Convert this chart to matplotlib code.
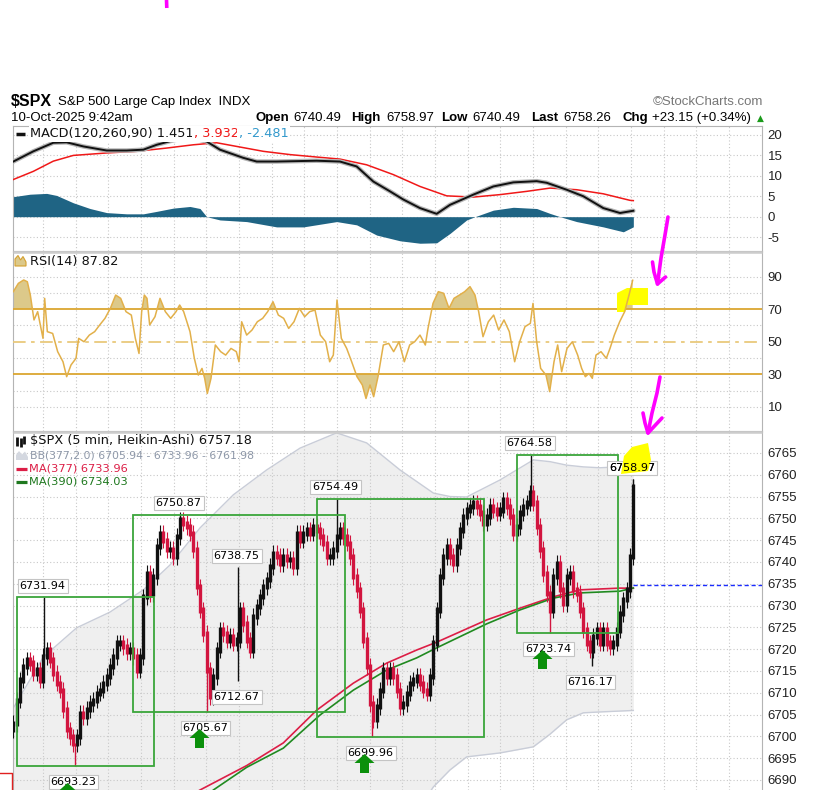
import numpy as np
import matplotlib
matplotlib.use("Agg")
import matplotlib.pyplot as plt
from matplotlib.path import Path
from matplotlib.patches import Polygon
from matplotlib.transforms import offset_copy

plt.rcParams['font.family'] = ['Liberation Sans', 'DejaVu Sans']
plt.rcParams['axes.unicode_minus'] = False

W, H = 822, 790

# ---------------- DATA ----------------
# Heikin-Ashi closes of $SPX, 5-min chart (one value per ~3 bars)
price_close = [
 6703.0, 6708.3, 6712.9, 6716.0, 6717.5, 6716.8, 6714.5, 6715.2, 6712.9, 6718.3,
 6719.8, 6717.5, 6714.5, 6712.2, 6710.6, 6706.1, 6701.5, 6699.9, 6698.4, 6699.9,
 6705.3, 6704.5, 6706.1, 6707.6, 6708.3, 6709.9, 6710.6, 6712.2, 6713.7, 6716.0,
 6718.3, 6721.4, 6721.4, 6720.6, 6719.4, 6719.8, 6718.3, 6715.2, 6718.3, 6732.0,
 6737.4, 6732.8, 6736.6, 6743.5, 6746.6, 6745.0, 6742.8, 6742.8, 6741.2, 6745.8,
 6749.6, 6748.9, 6748.1, 6746.6, 6742.8, 6734.3, 6729.0, 6723.6, 6715.2, 6709.1,
 6713.7, 6719.8, 6724.4, 6723.6, 6722.1, 6722.9, 6721.4, 6722.1, 6729.0, 6725.9,
 6722.1, 6719.8, 6727.5, 6729.7, 6732.0, 6734.3, 6735.9, 6738.9, 6742.0, 6741.2,
 6739.7, 6741.2, 6740.5, 6740.5, 6738.9, 6746.6, 6745.0, 6746.6, 6747.3, 6746.6,
 6748.1, 6747.3, 6745.8, 6744.3, 6741.2, 6741.2, 6742.8, 6745.8, 6747.3, 6745.8,
 6744.3, 6741.2, 6736.6, 6733.6, 6729.0, 6722.1, 6716.0, 6707.6, 6703.8, 6706.8,
 6710.6, 6715.2, 6713.7, 6715.2, 6713.7, 6710.6, 6706.8, 6707.6, 6709.9, 6712.2,
 6712.9, 6713.7, 6712.2, 6710.6, 6709.9, 6713.7, 6721.4, 6729.0, 6736.6, 6741.2,
 6743.5, 6741.2, 6739.7, 6743.5, 6747.3, 6750.4, 6751.9, 6752.7, 6753.5, 6752.7,
 6751.2, 6748.9, 6750.4, 6752.7, 6751.9, 6751.2, 6751.9, 6754.2, 6752.7, 6750.4,
 6746.6, 6748.1, 6751.2, 6752.7, 6753.5, 6755.8, 6753.5, 6748.1, 6742.8, 6737.4,
 6732.8, 6729.0, 6736.6, 6739.7, 6733.6, 6730.5, 6736.6, 6737.4, 6733.6, 6732.8,
 6729.0, 6724.4, 6721.4, 6719.8, 6722.9, 6724.4, 6721.4, 6724.4, 6721.4, 6720.6,
 6721.4, 6724.4, 6728.2, 6731.3, 6733.6, 6741.2, 6757.18,
]

# labelled swing highs / lows (position in the same time units)
high_idx = [9.2, 50.0, 67.4, 97.1, 155.3, 186.0]
high_vals = [6731.94, 6750.87, 6738.75, 6754.49, 6764.58, 6758.97]
low_idx = [18.5, 58.1, 67.4, 107.6, 161.0, 173.6]
low_vals = [6693.23, 6705.67, 6712.67, 6699.96, 6723.74, 6716.17]
arrow_lows = [6693.23, 6705.67, 6699.96, 6723.74]

# green range boxes drawn on the chart
box_start = [1.2, 36.0, 91.1, 151.0]
box_end = [42.2, 99.5, 141.2, 181.5]
box_low = [6693.23, 6705.67, 6699.96, 6723.74]
box_high = [6731.94, 6750.87, 6754.49, 6764.58]

level_line = 6734.7

ma377_idx = [50, 56, 70, 81, 91, 102, 112, 121, 127, 142, 152, 162, 170, 182, 186]
ma377_vals = [6685.0, 6687.7, 6693.3, 6698.5, 6706.0, 6712.2, 6716.8, 6719.8, 6721.6,
              6726.7, 6729.4, 6732.0, 6733.6, 6734.0, 6733.96]
ma390_idx = [55, 60, 70, 81, 92, 102, 112, 121, 127, 142, 152, 162, 170, 182, 186]
ma390_vals = [6684.0, 6687.7, 6692.9, 6697.3, 6704.9, 6710.6, 6715.2, 6718.0, 6720.3,
              6725.8, 6729.0, 6731.7, 6732.9, 6733.3, 6734.03]

bb_idx = [0, 9, 19, 29, 39, 47, 56, 66, 76, 86, 97, 106, 116, 126, 131, 136, 146, 156,
          161, 166, 171, 176, 186]
bb_upper = [6706.5, 6718.2, 6724.9, 6728.5, 6733.6, 6739.3, 6747.8, 6755.4, 6761.1, 6766.1,
            6769.6, 6767.3, 6761.1, 6755.8, 6755.0, 6754.9, 6758.8, 6763.4, 6763.0, 6762.2,
            6761.8, 6761.6, 6761.98]
bb_lower = [6640.0, 6641.0, 6642.0, 6644.0, 6646.0, 6648.0, 6650.0, 6653.0, 6656.0, 6660.0,
            6664.0, 6668.0, 6677.0, 6688.4, 6692.3, 6695.3, 6696.2, 6697.6, 6700.5, 6703.8,
            6705.4, 6705.6, 6705.94]

macd_idx = [0, 6, 12, 16, 21, 28, 34, 39, 43, 48, 53, 58, 62, 69, 73, 79, 91, 98, 103, 108,
            113, 117, 122, 127, 131, 138, 144, 150, 157, 160, 166, 171, 177, 182, 186]
macd_vals = [13.5, 16.0, 18.1, 18.2, 17.2, 16.2, 16.2, 16.4, 17.6, 18.7, 19.4, 18.4, 16.4,
             14.4, 13.5, 13.5, 13.7, 13.5, 12.3, 8.6, 6.2, 4.2, 2.1, 0.7, 2.9, 5.4, 7.4, 8.4,
             8.7, 8.3, 6.6, 5.0, 2.1, 0.9, 1.451]
sig_idx = [0, 6, 12, 18, 28, 37, 46, 54, 61, 67, 75, 83, 91, 98, 106, 114, 122, 130, 138,
           146, 154, 161, 169, 177, 185, 186]
sig_vals = [9.1, 11.1, 13.6, 15.0, 15.6, 16.0, 16.8, 17.6, 18.1, 17.2, 16.0, 15.2, 14.6, 14.1,
            12.7, 10.3, 7.4, 5.1, 4.8, 5.4, 6.2, 7.0, 6.6, 5.6, 4.0, 3.932]
hist_idx = [0, 5, 10, 13, 18, 23, 28, 34, 39, 43, 48, 53, 56, 58, 62, 70, 79, 87, 97, 103,
            109, 116, 122, 127, 131, 136, 138.5, 144, 150, 157, 161, 164, 169, 177, 183, 186]
hist_vals = [4.9, 5.5, 5.7, 5.2, 3.4, 2.0, 1.0, 0.7, 0.7, 1.3, 2.1, 2.5, 2.0, 0.0, -0.8,
             -1.2, -2.5, -2.5, -1.2, -2.0, -4.5, -5.9, -6.5, -6.4, -4.1, -0.8, 0.0, 1.6, 2.3,
             2.0, 0.8, 0.0, -1.2, -2.5, -3.7, -2.481]

rsi_idx = [0, 1.5, 3.1, 4.2, 5.1, 6.2, 7.3, 8.3, 8.9, 9.4, 10.2, 11.8, 13.3, 14.9, 16.0, 17.3,
           18.8, 19.6, 21.2, 22.8, 24.4, 25.9, 27.5, 29.1, 30.7, 32.2, 33.8, 35.4, 36.6, 37.7,
           38.5, 39.3, 40.1, 40.9, 42.5, 44.0, 45.6, 47.2, 48.8, 49.9, 51.1, 53.0, 54.3, 55.5,
           56.6, 57.4, 58.2, 59.3, 60.6, 62.2, 63.7, 65.3, 66.9, 67.7, 68.5, 70.0, 71.6, 73.2,
           74.8, 76.3, 77.9, 79.5, 81.1, 82.6, 84.2, 85.8, 87.4, 88.9, 90.5, 92.1, 93.7, 94.9,
           96.0, 97.1, 98.4, 100.0, 101.5, 103.1, 104.7, 105.8, 107.0, 108.1, 109.4, 111.0,
           112.6, 114.1, 115.7, 117.3, 118.9, 120.4, 122.0, 123.6, 124.4, 125.9, 127.5, 129.1,
           130.7, 132.2, 133.8, 135.4, 137.0, 138.5, 139.6, 140.9, 142.5, 144.1, 145.6, 147.2,
           148.8, 150.4, 151.9, 153.5, 155.1, 155.9, 157.0, 158.2, 159.8, 160.9, 162.2, 163.3,
           164.5, 166.1, 167.7, 169.3, 170.5, 171.6, 172.7, 173.7, 174.8, 176.3, 177.9, 179.0,
           180.3, 181.9, 183.4, 184.7, 185.8]
rsi_vals = [80.8, 85.9, 88.0, 86.9, 78.7, 63.4, 68.5, 58.2, 52.1, 76.7, 56.2, 55.1, 43.9, 37.7,
            28.5, 35.7, 39.8, 52.1, 50.0, 54.1, 56.2, 60.3, 64.4, 70.5, 78.7, 76.7, 68.5, 66.4,
            52.1, 42.8, 68.5, 78.7, 76.7, 60.3, 65.4, 76.7, 68.5, 64.4, 68.5, 72.6, 68.5, 56.2,
            39.8, 29.5, 33.6, 27.5, 18.2, 27.5, 48.0, 43.9, 41.8, 45.9, 43.9, 37.7, 62.3, 54.1,
            57.2, 62.3, 64.4, 68.5, 74.6, 66.4, 64.4, 58.2, 62.3, 70.5, 65.4, 68.5, 69.5, 54.1,
            50.0, 37.7, 41.8, 75.7, 52.1, 45.9, 37.7, 28.5, 23.4, 15.1, 23.4, 16.2, 28.5, 48.0,
            49.0, 43.9, 50.0, 37.7, 48.0, 50.0, 54.1, 48.0, 58.2, 73.6, 80.8, 79.8, 70.5, 76.7,
            78.7, 80.8, 83.9, 78.7, 68.5, 53.1, 62.3, 66.4, 57.2, 63.4, 56.2, 37.7, 50.0, 59.3,
            61.3, 73.6, 50.0, 33.6, 29.5, 19.3, 37.7, 48.0, 31.6, 45.9, 50.0, 41.8, 33.6, 28.5,
            30.5, 27.5, 41.8, 43.9, 39.8, 45.9, 54.1, 62.3, 68.5, 78.7, 87.82]

price_ticks = list(range(6690, 6766, 5))
rsi_ticks = [10, 30, 50, 70, 90]
macd_ticks = [-5, 0, 5, 10, 15, 20]

# ---------------- FIGURE / LAYOUT ----------------
fig = plt.figure(figsize=(W / 100, H / 100), dpi=100)


def px_rect(x0, y0, x1, y1):
    return [x0 / W, 1 - y1 / H, (x1 - x0) / W, (y1 - y0) / H]


L, R = 12.5, 762
XMIN, XMAX = -0.25, 224.6
ax_m = fig.add_axes(px_rect(L, 126, R, 251))
ax_r = fig.add_axes(px_rect(L, 252, R, 431))
ax_p = fig.add_axes(px_rect(L, 432, R, 790))
ov = fig.add_axes([0, 0, 1, 1], zorder=20)
ov.set_xlim(0, W)
ov.set_ylim(H, 0)
ov.axis('off')
ov.patch.set_alpha(0)

GRID = '#c8c8c8'
vgrid = np.arange(8.9, 224, 9.8)

for ax in (ax_m, ax_r, ax_p):
    ax.set_xlim(XMIN, XMAX)
    ax.set_xticks([])
    ax.yaxis.tick_right()
    ax.tick_params(axis='y', length=0, pad=4, labelsize=9.5, labelcolor='#222222')
    for s in ax.spines.values():
        s.set_color('#b4b4b4')
        s.set_linewidth(0.8)
    for g in vgrid:
        ax.axvline(g, color=GRID, lw=0.8, ls=(0, (1, 2)), zorder=1)
ax_p.spines['bottom'].set_visible(False)

# ---------------- MACD ----------------
ax_m.set_ylim(-8.4, 22.2)
ax_m.set_yticks(macd_ticks)
for t in macd_ticks:
    ax_m.axhline(t, color=GRID, lw=0.8, ls=(0, (1, 2)), zorder=1)
ax_m.fill_between(hist_idx, hist_vals, 0, color='#1f6484', lw=0, zorder=2)
ax_m.plot(sig_idx, sig_vals, color='#f01818', lw=1.1, zorder=3)
ax_m.plot(macd_idx, macd_vals, color='#b4b4b4', lw=3.2, zorder=3, solid_capstyle='round')
ax_m.plot(macd_idx, macd_vals, color='#111111', lw=1.4, zorder=4)

# ---------------- RSI ----------------
ax_r.set_ylim(-4.9, 105.2)
ax_r.set_yticks(rsi_ticks)
for t in [10, 20, 40, 60, 80, 90]:
    ax_r.axhline(t, color=GRID, lw=0.8, ls=(0, (1, 2)), zorder=1)
rv = np.array(rsi_vals)
ax_r.fill_between(rsi_idx, rv, 70, where=rv >= 70, interpolate=True, color='#dcc98a', lw=0, zorder=2)
ax_r.fill_between(rsi_idx, rv, 30, where=rv <= 30, interpolate=True, color='#dcc98a', lw=0, zorder=2)
ax_r.axhline(70, color='#dba630', lw=1.3, zorder=3)
ax_r.axhline(30, color='#dba630', lw=1.3, zorder=3)
ax_r.axhline(50, color='#e9c97c', lw=1.3, ls=(0, (7, 3, 2, 3)), zorder=3)
ax_r.plot(rsi_idx, rsi_vals, color='#e2b04a', lw=1.1, zorder=5)

# ---------------- PRICE ----------------
ax_p.set_ylim(6687.7, 6769.8)
ax_p.set_yticks(price_ticks)
for t in price_ticks:
    ax_p.axhline(t, color=GRID, lw=0.8, ls=(0, (1, 2)), zorder=1)
ax_p.fill_between(bb_idx, bb_lower, bb_upper, color='#efefef', lw=0, zorder=0.5)
ax_p.plot(bb_idx, bb_upper, color='#c9cdd8', lw=1.0, zorder=0.6)
ax_p.plot(bb_idx, bb_lower, color='#c9cdd8', lw=1.0, zorder=0.6)

ax_p.plot(ma377_idx, ma377_vals, color='#dc1e46', lw=1.2, zorder=3)
ax_p.plot(ma390_idx, ma390_vals, color='#208a20', lw=1.2, zorder=3)

close = np.array(price_close)
n = len(close)
idx = np.arange(n)
opn = np.concatenate([[close[0] - 1.5], close[:-1]])
up = close >= opn
body_lo = np.minimum(opn, close) - 0.6
body_hi = np.maximum(opn, close) + 0.6
UPC, DNC = '#111111', '#d2153f'
cols = np.where(up, UPC, DNC)
# thin wicks, then bodies
ax_p.vlines(idx, body_lo - 1.3, body_hi + 1.3, colors=cols, linewidths=0.8, zorder=4)
ax_p.vlines(idx, body_lo, body_hi, colors=cols, linewidths=2.4, zorder=4)

for i, v in list(zip(high_idx, high_vals)) + list(zip(low_idx, low_vals)):
    k = int(round(i))
    base = close[k]
    ax_p.vlines(i, min(base, v), max(base, v), colors=cols[k], linewidths=1.0, zorder=4)

for x0, x1, b, t in zip(box_start, box_end, box_low, box_high):
    ax_p.add_patch(plt.Rectangle((x0, b), x1 - x0, t - b, fill=False, ec='#3aa53a', lw=1.3, zorder=4.5))

ax_p.hlines(level_line, idx[-1], XMAX, colors='#1a2cff', linestyles=(0, (3, 2)), linewidths=1.0, zorder=4)

lbl_kw = dict(textcoords='offset points', ha='center', va='center', fontsize=8,
              family=['DejaVu Sans'], zorder=6, annotation_clip=False,
              bbox=dict(boxstyle='square,pad=0.18', fc='white', ec='#c4c4c4', lw=0.8))
for i, v in zip(high_idx, high_vals):
    ax_p.annotate(f'{v:.2f}', xy=(i, v), xytext=(-1.5 * 0.72, 11.5 * 0.72), **lbl_kw)
for i, v in zip(low_idx, low_vals):
    ax_p.annotate(f'{v:.2f}', xy=(i, v), xytext=(-1.5 * 0.72, -16 * 0.72), **lbl_kw)

arrow_path = Path([(0, 9.5), (10, 0.5), (4.5, 0.5), (4.5, -9.5), (-4.5, -9.5), (-4.5, 0.5),
                   (-10, 0.5), (0, 9.5)],
                  [Path.MOVETO] + [Path.LINETO] * 6 + [Path.CLOSEPOLY])
for i, v in zip(low_idx, low_vals):
    if v in arrow_lows:
        tr = offset_copy(ax_p.transData, fig=fig, x=-8, y=-26.5, units='dots')
        ax_p.plot([i], [v], marker=arrow_path, markersize=14.4, color='#0b900b', mew=0,
                  transform=tr, clip_on=False, zorder=7)

# yellow highlighter marks (drawn in pixel space)
ax_p.add_patch(Polygon([(621, 474), (624, 456), (632, 447), (648, 443), (651, 460), (648, 471)],
                       closed=True, fc='#ffff00', ec='none', transform=ov.transData,
                       clip_on=False, zorder=6.5))
hx = high_idx[-1]
ax_p.annotate(f'{high_vals[-1]:.2f}', xy=(hx, high_vals[-1]), xytext=(-1.5 * 0.72, 11.5 * 0.72),
              textcoords='offset points', ha='center', va='center', fontsize=8,
              family=['DejaVu Sans'], zorder=7, annotation_clip=False)
ax_r.add_patch(Polygon([(617, 312), (617, 293), (627, 288), (648, 288), (648, 305), (627, 305),
                        (625, 312)], closed=True, fc='#ffff00', ec='none',
                       transform=ov.transData, clip_on=False, zorder=4))

# ---------------- OVERLAY: header, legends, separators ----------------
for yy in (251.5, 431.5):
    ov.plot([L, R], [yy, yy], color='#cccccc', lw=1.8, solid_capstyle='butt')

ov.text(11, 102, '$SPX', fontsize=11.5, fontweight='bold', va='center', ha='left')
ov.text(58, 102, 'S&P 500 Large Cap Index  INDX', fontsize=9.5, va='center', ha='left')
ov.text(763, 102, '\u00a9StockCharts.com', fontsize=9.5, color='#777777', va='center', ha='right')
ov.text(11, 118, '10-Oct-2025 9:42am', fontsize=9.5, va='center', ha='left')
hdr = [('Open', True, 255), ('6740.49', False, 293), ('High', True, 351), ('6758.97', False, 386),
       ('Low', True, 441), ('6740.49', False, 472), ('Last', True, 531), ('6758.26', False, 563),
       ('Chg', True, 622), ('+23.15 (+0.34%)', False, 652)]
for s, b, x in hdr:
    ov.text(x, 118, s, fontsize=9.5, fontweight='bold' if b else 'normal', va='center', ha='left')
ov.text(757, 118, '\u25b2', fontsize=6.5, color='#1a9a1a', va='center', ha='left',
        family=['DejaVu Sans'])

renderer = fig.canvas.get_renderer()
WBOX = dict(boxstyle='square,pad=0.1', fc='white', ec='none')


def seq_text(x, y, parts, **kw):
    for s, c in parts:
        t = ov.text(x, y, s, color=c, va='center', ha='left', bbox=WBOX, **kw)
        bb = t.get_window_extent(renderer=renderer)
        x = bb.x1


LEG = dict(family=['DejaVu Sans'])
# MACD legend
ov.plot([16, 25], [134, 134], color='#111111', lw=2.5, solid_capstyle='butt')
seq_text(30, 134, [('MACD(120,260,90) 1.451', '#111111'), (', 3.932', '#f01818'),
                   (', -2.481', '#3399cc')], fontsize=9.3, **LEG)
# RSI legend
ov.add_patch(Polygon([(15, 266), (15, 259), (18, 255.5), (20.5, 260), (23, 256.5), (26, 262),
                      (26, 266)], closed=True, fc='#dcc98a', ec='#d4a030', lw=0.8))
ov.text(30, 261, 'RSI(14) 87.82', fontsize=9.3, va='center', ha='left', color='#111111', **LEG)
# price legends
for bx, by0, by1, bc in [(17, 437, 446, '#111111'), (20.5, 438, 447, '#111111'),
                         (24, 436, 444, '#111111')]:
    ov.plot([bx, bx], [by0, by1], color=bc, lw=2.0, solid_capstyle='butt')
ov.text(30, 441, '$SPX (5 min, Heikin-Ashi) 6757.18', fontsize=9.3, va='center', ha='left',
        color='#111111', **LEG)
ov.add_patch(Polygon([(16, 460), (16, 455), (19, 451), (22, 454.5), (25, 451.5), (28, 457),
                      (28, 460)], closed=True, fc='#d4d8e0', ec='none'))
ov.text(30, 455, 'BB(377,2.0) 6705.94 - 6733.96 - 6761.98', fontsize=7.8, va='center',
        ha='left', color='#8d97a8', **LEG)
ov.plot([16, 27], [468.5, 468.5], color='#dc1e46', lw=2.3, solid_capstyle='butt')
ov.text(29, 468.5, 'MA(377) 6733.96', fontsize=8.2, va='center', ha='left', color='#dc1e46', **LEG)
ov.plot([16, 27], [482, 482], color='#1e781e', lw=2.3, solid_capstyle='butt')
ov.text(29, 482, 'MA(390) 6734.03', fontsize=8.2, va='center', ha='left', color='#1e781e', **LEG)

# hand-drawn magenta marks
MAG = '#ff00ff'
ov.plot([166.5, 166.8], [0, 8], color=MAG, lw=2.6, solid_capstyle='butt')
ov.plot([668, 665, 661, 657.5], [217, 235, 258, 284], color=MAG, lw=2.6, solid_capstyle='round')
ov.plot([652.5, 654, 657.5, 665.5], [262, 272, 284, 277], color=MAG, lw=2.6,
        solid_capstyle='round', solid_joinstyle='round')
ov.plot([660, 657, 652, 648], [377, 393, 413, 433], color=MAG, lw=2.6, solid_capstyle='round')
ov.plot([643, 645, 648, 662], [413, 423, 433, 418], color=MAG, lw=2.6,
        solid_capstyle='round', solid_joinstyle='round')
# partial red outline at bottom-left
ov.plot([0, 12.3, 12.3], [773, 773, 790], color='#e02020', lw=1.0)

fig.savefig('out.png', dpi=100)
